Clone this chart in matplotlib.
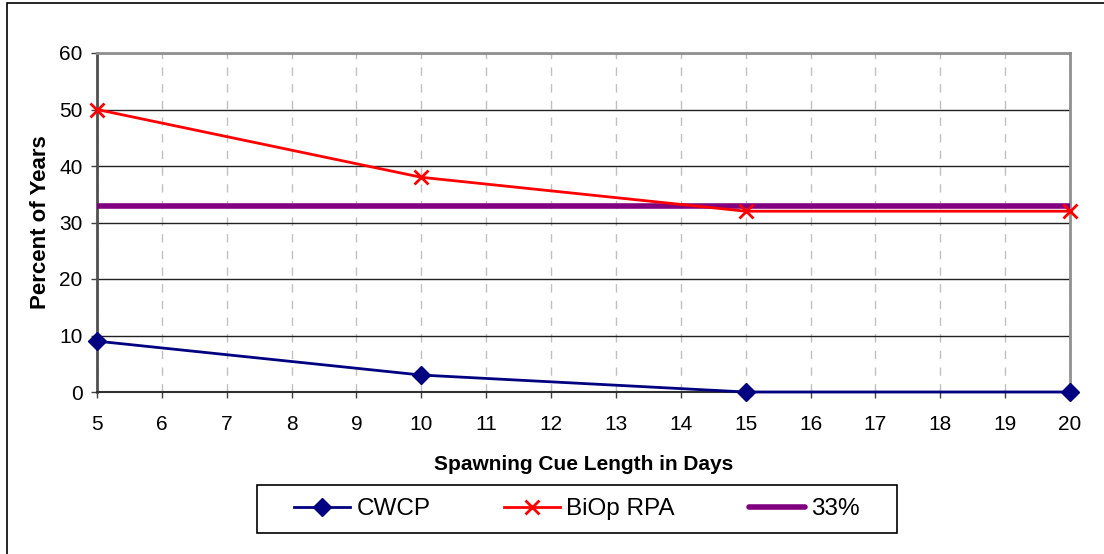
import matplotlib.pyplot as plt
from matplotlib.patches import Rectangle

plt.rcParams['font.family'] = ['Liberation Sans', 'DejaVu Sans']

days = [5, 10, 15, 20]
cwcp = [9, 3, 0, 0]
biop_rpa = [50, 38, 32, 32]
threshold = [33, 33, 33, 33]

W, H = 1104, 554
fig = plt.figure(figsize=(W / 100, H / 100), dpi=100)
# outer chart frame (only left and top edges fall inside the picture)
fig.patches.append(Rectangle((7 / W, -0.1), 1.2, 1.1 - 3 / H, transform=fig.transFigure,
                             fill=False, edgecolor='black', linewidth=1.2))

ax = fig.add_axes([97 / W, 1 - 392 / H, (1070 - 97) / W, (392 - 53) / H])

ax.plot(days, threshold, color='#800080', linewidth=4, label='33%', zorder=3,
        solid_capstyle='butt')
ax.plot(days, cwcp, color='#000080', linewidth=2, marker='D', markersize=9,
        label='CWCP', zorder=5, clip_on=False)
ax.plot(days, biop_rpa, color='#ff0000', linewidth=2, marker='x', markersize=10,
        markeredgewidth=2, label='BiOp RPA', zorder=5, clip_on=False)

ax.set_xlim(5, 20)
ax.set_ylim(0, 60)
ax.set_xticks(range(5, 21))
ax.set_yticks(range(0, 61, 10))
ax.tick_params(labelsize=15, length=4.5, color='#404040', width=1)
ax.tick_params(axis='x', pad=12)
ax.tick_params(axis='y', pad=6)

ax.yaxis.grid(True, color='#202020', linewidth=1)
ax.xaxis.grid(True, color='#c0c0c0', linewidth=1, linestyle=(0, (6, 6)))
ax.set_axisbelow(True)
for side in ['top', 'right']:
    ax.spines[side].set_color('#909090')
    ax.spines[side].set_linewidth(2)
ax.spines['left'].set_color('#505050')
ax.spines['left'].set_linewidth(2)
ax.spines['bottom'].set_color('#303030')
ax.spines['bottom'].set_linewidth(1.5)

ax.set_xlabel('Spawning Cue Length in Days', fontsize=15, fontweight='bold', labelpad=15)
ax.set_ylabel('Percent of Years', fontsize=16, fontweight='bold', labelpad=6)

handles, labels = ax.get_legend_handles_labels()
order = [1, 2, 0]
leg = fig.legend([handles[i] for i in order], [labels[i] for i in order],
                 loc='center', bbox_to_anchor=(577 / W, 1 - 509 / H), ncol=3,
                 fontsize=17.5, frameon=False,
                 handlelength=2.3, handletextpad=0.25, columnspacing=3.05,
                 borderpad=0, borderaxespad=0)
leg.get_lines()[2].set_solid_capstyle('round')
# legend frame drawn separately: wider horizontal padding than vertical
fig.patches.append(Rectangle((257 / W, 1 - 533 / H), (897 - 257) / W, (533 - 485) / H,
                             transform=fig.transFigure, fill=False,
                             edgecolor='black', linewidth=1.2))

fig.savefig('out.png', dpi=100)
